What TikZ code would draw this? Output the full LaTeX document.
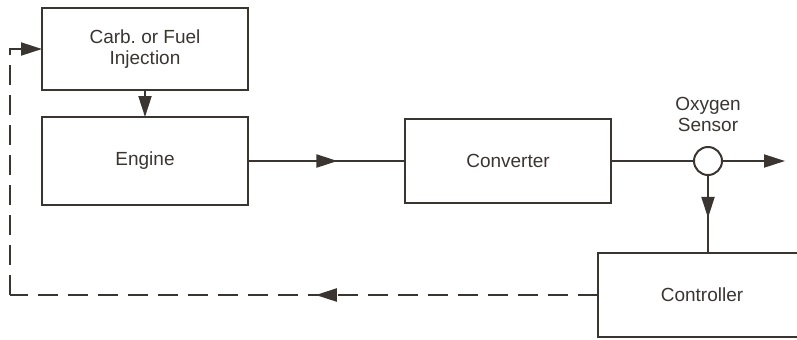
\documentclass[tikz,border=0pt]{standalone}
\usepackage{fontspec}
\setmainfont{Liberation Sans}
\usetikzlibrary{arrows.meta,positioning,decorations.markings}
\definecolor{ink}{HTML}{3B3532}

\begin{document}
\frenchspacing
\begin{tikzpicture}[
  x=0.5pt,y=-0.5pt,
  font=\fontsize{9.5}{10.5}\selectfont,
  color=ink,
  box/.style={draw,line width=1.35pt,align=center,minimum width=103pt,minimum height=42pt,inner sep=2pt,outer sep=0pt},
  wire/.style={line width=1pt},
  feed/.style={wire,dash pattern=on 10pt off 5pt},
  tip/.style={-{Triangle[length=10.5pt,width=6.5pt]}},
  midarr/.style={postaction={decorate},decoration={markings,
    mark=at position #1 with {\arrow[solid]{Triangle[length=10.5pt,width=6.5pt]}}}}
]
\clip (0,0) rectangle (797,339);
\node[box,minimum height=41pt,text depth=2pt] (carb) at (145,49) {Carb. or Fuel\\Injection};
\node[box,minimum height=44pt,below=13.5pt of carb] (engine) {Engine};
\node[box,right=78.5pt of engine] (conv) {Converter};
\node[draw,circle,wire,minimum size=14pt,inner sep=0pt,outer sep=0pt] (sensor) at (708,161) {};
\node[above=4pt of sensor,align=center] (sensorlbl) {Oxygen\\Sensor};
\node[box,minimum width=104pt] (ctrl) at (702,295) {Controller};
\coordinate (out) at (785,161);
\coordinate (fbx) at (10,0);
% forward path
\draw[wire,tip] (carb) -- (engine);
\draw[wire,midarr=0.57] (engine) -- (conv);
\draw[wire] (conv.east) -- (sensor.west);
\draw[wire,tip] (sensor) -- (out);
\draw[wire,midarr=0.55] (sensor) -- (sensor |- ctrl.north);
% feedback to the fuel system
\draw[feed,midarr=0.48] (ctrl.west) -- (ctrl.west -| fbx);
\draw[feed,tip] (ctrl.west -| fbx) |- (carb.west);
\end{tikzpicture}
\end{document}
